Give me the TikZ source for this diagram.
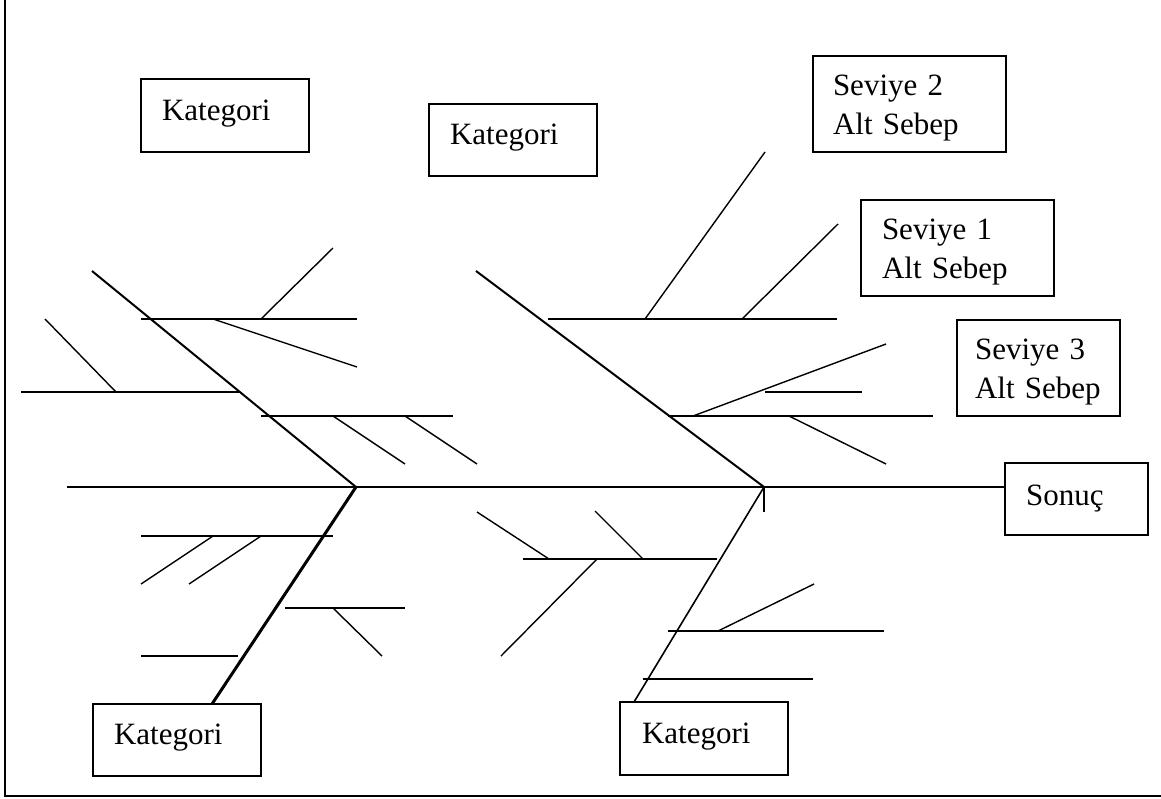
\documentclass[tikz,border=0pt]{standalone}
\usepackage{fontspec}
\setmainfont{Liberation Serif}
\begin{document}
\begin{tikzpicture}[x=1pt,y=-1pt,
  twig/.style={line width=1.4pt},
  bone/.style={line width=2pt},
  heavybone/.style={line width=3pt},
  spine/.style={line width=2pt},
  frame/.style={line width=2.2pt},
  catbox/.style={draw, line width=1.6pt, anchor=north west, outer sep=0pt,
    inner ysep=0pt, align=left, font=\fontsize{31}{39}\selectfont},
  onel/.style={text height=20pt, text depth=11pt},
  twol/.style={text height=21pt, text depth=39pt}]
\useasboundingbox (0,0) rectangle (1161,798);

% frame (left and bottom edges)
\coordinate (ftop) at (5,0);
\coordinate (fcorner) at (5,796);
\coordinate (fright) at (1161,796);
\draw[frame] (ftop) -- (fcorner) -- (fright);

% boxes
\node[catbox, onel, minimum width=168pt, minimum height=73pt, inner xsep=21pt, text width=126pt] (kat1) at (141,79) {Kategori};
\node[catbox, onel, minimum width=168pt, minimum height=72pt, inner xsep=21pt, text width=126pt] (kat2) at (429,104) {Kategori};
\node[catbox, onel, minimum width=168pt, minimum height=72pt, inner xsep=21pt, text width=126pt] (kat3) at (93,704) {Kategori};
\node[catbox, onel, minimum width=168pt, minimum height=73pt, inner xsep=22pt, text width=124pt] (kat4) at (620,702) {Kategori};
\node[catbox, twol, minimum width=193pt, minimum height=96pt, inner xsep=20pt, text width=153pt] (sev2) at (813,56) {Seviye 2\\Alt Sebep};
\node[catbox, twol, minimum width=193pt, minimum height=96pt, inner xsep=21pt, text width=151pt] (sev1) at (861,200) {Seviye 1\\Alt Sebep};
\node[catbox, twol, minimum width=163pt, minimum height=96pt, inner xsep=18pt, text width=127pt] (sev3) at (957,320) {Seviye 3\\Alt Sebep};
\node[catbox, text height=20pt, text depth=8pt, minimum width=143pt, minimum height=72pt, inner xsep=21pt, text width=101pt] (sonuc) at (1005,463) {Sonuç};

% spine and main bones
\coordinate (tail) at (67,487);
\coordinate (j1) at (356,487);
\coordinate (head) at (764,487);
\coordinate (tick) at (764,512);
\coordinate (ul) at (92,271);
\coordinate (um) at (476,271);
\coordinate (ll) at (kat3.north -| 212,0);
\coordinate (lm) at (kat4.north -| 634,0);
\draw[spine] (tail) -- (j1) -- (head) -- (sonuc.west |- head);
\draw[bone] (ul) -- (j1);
\draw[heavybone] (j1) -- (ll);
\draw[bone] (um) -- (head);
\draw[line width=1.6pt] (head) -- (lm);
\draw[twig] (head) -- (tick);

% upper left causes
\coordinate (a1) at (141,319);  \coordinate (a2) at (357,319);
\coordinate (a3) at (261,319);  \coordinate (a4) at (333,248);
\coordinate (a5) at (213,319);  \coordinate (a6) at (357,367);
\coordinate (a7) at (21,392);   \coordinate (a8) at (240,392);
\coordinate (a9) at (45,319);   \coordinate (a10) at (116,392);
\coordinate (a11) at (261,416); \coordinate (a12) at (453,416);
\coordinate (a13) at (333,416); \coordinate (a14) at (405,464);
\coordinate (a15) at (405,416); \coordinate (a16) at (477,464);
\draw[twig] (a1) -- (a2);
\draw[twig] (a3) -- (a4);
\draw[twig] (a5) -- (a6);
\draw[twig] (a7) -- (a8);
\draw[twig] (a9) -- (a10);
\draw[twig] (a11) -- (a12);
\draw[twig] (a13) -- (a14);
\draw[twig] (a15) -- (a16);

% upper middle causes
\coordinate (b1) at (548,319);  \coordinate (b2) at (837,319);
\coordinate (b3) at (645,319);  \coordinate (b4) at (765,152);
\coordinate (b5) at (742,319);  \coordinate (b6) at (838,224);
\coordinate (b7) at (668,416);  \coordinate (b8) at (933,416);
\coordinate (b9) at (693,416);  \coordinate (b10) at (886,344);
\coordinate (b11) at (765,392); \coordinate (b12) at (862,392);
\coordinate (b13) at (789,416); \coordinate (b14) at (886,464);
\draw[twig] (b1) -- (b2);
\draw[twig] (b3) -- (b4);
\draw[twig] (b5) -- (b6);
\draw[twig] (b7) -- (b8);
\draw[twig] (b9) -- (b10);
\draw[twig] (b11) -- (b12);
\draw[twig] (b13) -- (b14);

% lower left causes
\coordinate (c1) at (141,536);  \coordinate (c2) at (333,536);
\coordinate (c3) at (213,536);  \coordinate (c4) at (141,584);
\coordinate (c5) at (261,536);  \coordinate (c6) at (189,584);
\coordinate (c7) at (285,608);  \coordinate (c8) at (405,608);
\coordinate (c9) at (333,608);  \coordinate (c10) at (382,656);
\coordinate (c11) at (141,656); \coordinate (c12) at (238,656);
\draw[twig] (c1) -- (c2);
\draw[twig] (c3) -- (c4);
\draw[twig] (c5) -- (c6);
\draw[twig] (c7) -- (c8);
\draw[twig] (c9) -- (c10);
\draw[twig] (c11) -- (c12);

% lower middle causes
\coordinate (d1) at (523,559);  \coordinate (d2) at (717,559);
\coordinate (d3) at (477,512);  \coordinate (d4) at (549,559);
\coordinate (d5) at (595,511);  \coordinate (d6) at (643,559);
\coordinate (d7) at (597,559);  \coordinate (d8) at (501,656);
\coordinate (d9) at (668,631);  \coordinate (d10) at (884,631);
\coordinate (d11) at (718,631); \coordinate (d12) at (814,584);
\coordinate (d13) at (643,679); \coordinate (d14) at (813,679);
\draw[twig] (d1) -- (d2);
\draw[twig] (d3) -- (d4);
\draw[twig] (d5) -- (d6);
\draw[twig] (d7) -- (d8);
\draw[twig] (d9) -- (d10);
\draw[twig] (d11) -- (d12);
\draw[twig] (d13) -- (d14);
\end{tikzpicture}
\end{document}
